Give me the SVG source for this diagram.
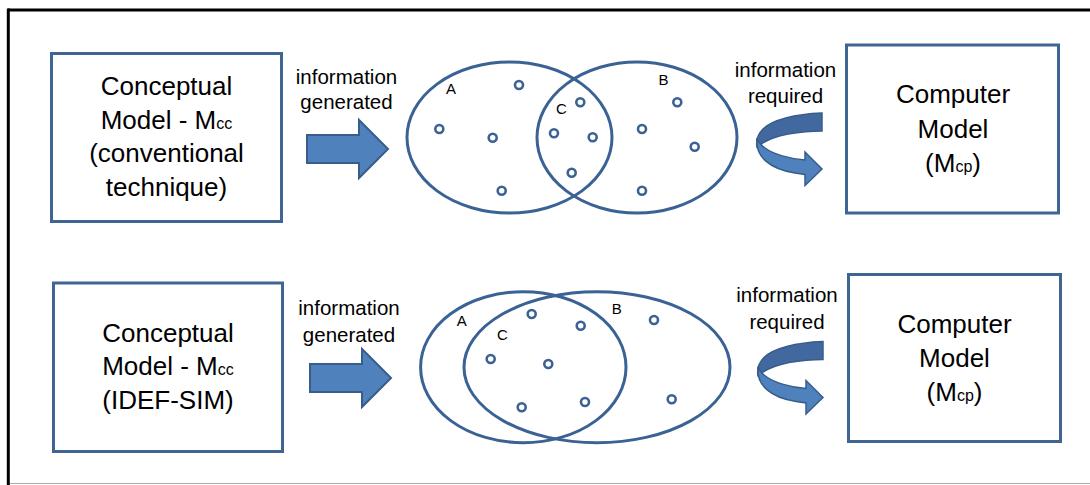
<svg xmlns="http://www.w3.org/2000/svg" width="1090" height="485" viewBox="0 0 1090 485">
  <style>
    .box { fill: #ffffff; stroke: #3f6593; stroke-width: 3; }
    .set { fill: none; stroke: #3b6294; stroke-width: 3; }
    .dot { fill: none; stroke: #3b6294; stroke-width: 2.6; }
    .big { font-family: "Liberation Sans", Arial, sans-serif; font-size: 26px; fill: #000; text-anchor: middle; }
    .sub { font-size: 16px; }
    .lbl { font-family: "Liberation Sans", Arial, sans-serif; font-size: 20.5px; fill: #000; text-anchor: middle; }
    .set-name { font-family: "Liberation Sans", Arial, sans-serif; font-size: 15px; fill: #000; text-anchor: middle; }
    .flow { fill: #4f81bd; stroke: #385d8a; stroke-width: 2; stroke-linejoin: miter; }
    .turn-back { fill: #41699f; stroke: #385d8a; stroke-width: 1.5; }
    .turn-front { fill: #4f81bd; stroke: #385d8a; stroke-width: 1.5; }
  </style>
  <defs>
    <!-- straight block arrow, tip at origin -->
    <path id="block-arrow" d="M-81,-14 L-29,-14 L-29,-29 L0,0 L-29,29 L-29,14 L-81,14 Z"/>
    <!-- curved (U-turn) arrow -->
    <g id="turn-arrow">
      <path class="turn-back" d="M822,113 C795,114 772,120 763,129 C757,135 756,141 757,147 C763,142 773,137 788,134 C800,132 812,131 822,131 Z"/>
      <path class="turn-front" d="M757,138 C755,157 770,169 795,173 L805,174.5 L805,185.5 L822,169 L805,152 L805,160 C790,159 773,154 765,148 C761,145 758,142 757,138 Z"/>
    </g>
  </defs>

  <rect width="1090" height="485" fill="#ffffff"/>

  <!-- frame -->
  <g id="frame">
    <line x1="8" y1="10" x2="1090" y2="10" stroke="#000" stroke-width="3"/>
    <line x1="8.3" y1="8.5" x2="8.3" y2="485" stroke="#000" stroke-width="3"/>
    <line x1="10" y1="483.5" x2="1090" y2="483.5" stroke="#aaaaaa" stroke-width="1"/>
  </g>

  <!-- upper row -->
  <g id="conceptual-conventional">
    <rect class="box" x="51.5" y="53.5" width="230" height="168"/>
    <text class="big" x="166.5" y="95">Conceptual</text>
    <text class="big" x="166.5" y="128.5">Model - M<tspan class="sub">cc</tspan></text>
    <text class="big" x="166.5" y="162">(conventional</text>
    <text class="big" x="166.5" y="195.5">technique)</text>
  </g>

  <g id="sets-conventional">
    <ellipse class="set" cx="509.5" cy="137.5" rx="102.5" ry="75.5"/>
    <ellipse class="set" cx="637" cy="137.5" rx="100" ry="75.5"/>
    <text class="set-name" x="451" y="94">A</text>
    <text class="set-name" x="663.5" y="85">B</text>
    <text class="set-name" x="561.5" y="114">C</text>
    <circle class="dot" cx="519" cy="85" r="4"/>
    <circle class="dot" cx="439.3" cy="129" r="4"/>
    <circle class="dot" cx="492.7" cy="137.7" r="4"/>
    <circle class="dot" cx="501.7" cy="190.7" r="4"/>
    <circle class="dot" cx="580.3" cy="102.3" r="4"/>
    <circle class="dot" cx="554" cy="133.3" r="4"/>
    <circle class="dot" cx="592.7" cy="137.3" r="4"/>
    <circle class="dot" cx="571.7" cy="172.7" r="4"/>
    <circle class="dot" cx="677.3" cy="102.3" r="4"/>
    <circle class="dot" cx="642" cy="129" r="4"/>
    <circle class="dot" cx="694.7" cy="146.7" r="4"/>
    <circle class="dot" cx="642" cy="190.7" r="4"/>
  </g>

  <g id="computer-model-1">
    <rect class="box" x="846.5" y="45" width="212" height="168"/>
    <text class="big" x="953" y="103.3">Computer</text>
    <text class="big" x="953" y="138.3">Model</text>
    <text class="big" x="953" y="171.7">(M<tspan class="sub">cp</tspan>)</text>
  </g>

  <!-- lower row -->
  <g id="conceptual-idef-sim">
    <rect class="box" x="53.5" y="283" width="229" height="168.5"/>
    <text class="big" x="168" y="341.7">Conceptual</text>
    <text class="big" x="168" y="375">Model - M<tspan class="sub">cc</tspan></text>
    <text class="big" x="168" y="409">(IDEF-SIM)</text>
  </g>

  <g id="sets-idef-sim">
    <ellipse class="set" cx="523.3" cy="367.2" rx="102.7" ry="75.5"/>
    <ellipse class="set" cx="597" cy="367.2" rx="133" ry="75.5"/>
    <text class="set-name" x="461.7" y="326">A</text>
    <text class="set-name" x="616.7" y="313.5">B</text>
    <text class="set-name" x="502.3" y="339.5">C</text>
    <circle class="dot" cx="531.7" cy="314" r="4"/>
    <circle class="dot" cx="580.7" cy="325.7" r="4"/>
    <circle class="dot" cx="654" cy="320" r="4"/>
    <circle class="dot" cx="490.7" cy="359" r="4"/>
    <circle class="dot" cx="548.3" cy="364" r="4"/>
    <circle class="dot" cx="521.7" cy="407.3" r="4"/>
    <circle class="dot" cx="585" cy="402" r="4"/>
    <circle class="dot" cx="671.7" cy="399.3" r="4"/>
  </g>

  <g id="computer-model-2">
    <rect class="box" x="848.5" y="274.5" width="212" height="167"/>
    <text class="big" x="954.5" y="332.7">Computer</text>
    <text class="big" x="954.5" y="366.7">Model</text>
    <text class="big" x="954.5" y="401">(M<tspan class="sub">cp</tspan>)</text>
  </g>

  <!-- connectors -->
  <g id="connectors">
    <use href="#block-arrow" class="flow" transform="translate(388,149)"/>
    <text class="lbl" x="346.5" y="84">information</text>
    <text class="lbl" x="346.5" y="109">generated</text>

    <use href="#turn-arrow"/>
    <text class="lbl" x="785.5" y="77">information</text>
    <text class="lbl" x="785.5" y="103">required</text>

    <use href="#block-arrow" class="flow" transform="translate(391,378)"/>
    <text class="lbl" x="349" y="315">information</text>
    <text class="lbl" x="349" y="342">generated</text>

    <use href="#turn-arrow" transform="translate(1,228.5)"/>
    <text class="lbl" x="787" y="302">information</text>
    <text class="lbl" x="787" y="328.5">required</text>
  </g>
</svg>
